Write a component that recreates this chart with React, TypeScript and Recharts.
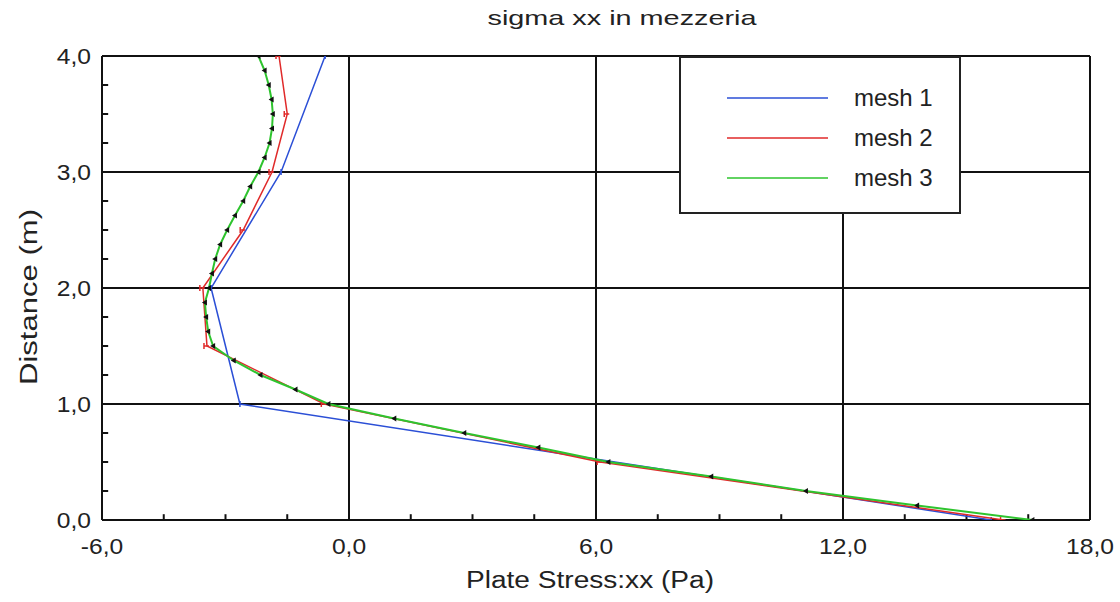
import React from 'react';
import { ScatterChart, Scatter, XAxis, YAxis, CartesianGrid, ReferenceLine, Legend } from 'recharts';

const xTicks = [-6, 0, 6, 12, 18];
const yTicks = [0, 1, 2, 3, 4];
const xMinorTicks = [-4.5, -3, -1.5, 1.5, 3, 4.5, 7.5, 9, 10.5, 13.5, 15, 16.5];
const yMinorTicks = [0.25, 0.5, 0.75, 1.25, 1.5, 1.75, 2.25, 2.5, 2.75, 3.25, 3.5, 3.75];

const seriesNames = ['mesh 1', 'mesh 2', 'mesh 3'];
const seriesColors = ['#2b4fd6', '#e02a2a', '#2ec42e'];

const mesh1Distance = [0, 1, 2, 3, 4];
const mesh1Stress = [15.6, -2.65, -3.35, -1.65, -0.58];

const mesh2Distance = [0, 0.5, 1, 1.5, 2, 2.5, 3, 3.5, 4];
const mesh2Stress = [15.9, 6.1, -0.6, -3.45, -3.55, -2.57, -1.87, -1.5, -1.7];

const mesh3Distance = [
  0, 0.125, 0.25, 0.375, 0.5, 0.625, 0.75, 0.875, 1,
  1.125, 1.25, 1.375, 1.5, 1.625, 1.75, 1.875, 2,
  2.125, 2.25, 2.375, 2.5, 2.625, 2.75, 2.875, 3,
  3.125, 3.25, 3.375, 3.5, 3.625, 3.75, 3.875, 4,
];
const mesh3Stress = [
  16.6, 13.8, 11.1, 8.8, 6.3, 4.6, 2.8, 1.1, -0.5,
  -1.3, -2.15, -2.8, -3.3, -3.42, -3.47, -3.5, -3.4,
  -3.33, -3.25, -3.13, -2.96, -2.77, -2.57, -2.4, -2.2,
  -2.05, -1.93, -1.87, -1.85, -1.88, -1.95, -2.05, -2.2,
];

const toPoints = (ds: number[], ss: number[]) => ds.map((y, i) => ({ x: ss[i], y }));
const mesh1 = toPoints(mesh1Distance, mesh1Stress);
const mesh2 = toPoints(mesh2Distance, mesh2Stress);
const mesh3 = toPoints(mesh3Distance, mesh3Stress);

const fmt = (v: number) => v.toFixed(1).replace('.', ',');
const FONT = '"Liberation Sans", Arial, sans-serif';
const TEXT = '#222';

const XTick = (p: any) => (
  <text
    transform={`translate(${p.x} ${p.y + 16}) scale(1.12 1)`}
    textAnchor="middle"
    fill={TEXT}
    fontSize={22}
    fontFamily={FONT}
  >
    {fmt(p.payload.value)}
  </text>
);
const YTick = (p: any) => (
  <text
    transform={`translate(${p.x} ${p.y + 8}) scale(1.12 1)`}
    textAnchor="end"
    fill={TEXT}
    fontSize={22}
    fontFamily={FONT}
  >
    {fmt(p.payload.value)}
  </text>
);

const BlueMark = (p: any) => (
  <line x1={p.cx} x2={p.cx} y1={p.cy - 3} y2={p.cy + 3} stroke="#2b4fd6" strokeWidth={1.5} />
);
const RedMark = (p: any) => (
  <g>
    <line x1={p.cx - 3} x2={p.cx - 3} y1={p.cy - 3} y2={p.cy + 3} stroke="#e02a2a" strokeWidth={1.5} />
    <line x1={p.cx - 3} x2={p.cx + 2} y1={p.cy} y2={p.cy} stroke="#e02a2a" strokeWidth={1.5} />
  </g>
);
const GreenMark = (p: any) => (
  <path d={`M${p.cx - 3},${p.cy} L${p.cx + 2},${p.cy - 3} L${p.cx + 2},${p.cy + 3} Z`} fill="#111" />
);

const LegendBox = () => (
  <div
    style={{
      width: '100%',
      height: '100%',
      boxSizing: 'border-box',
      border: '2px solid #222',
      background: '#fff',
      fontFamily: FONT,
      paddingTop: 20,
    }}
  >
    {seriesNames.map((n, i) => (
      <div key={n} style={{ display: 'flex', alignItems: 'center', height: 40 }}>
        <svg width={103} height={10} style={{ marginLeft: 46 }}>
          <line x1={0} x2={101} y1={5} y2={5} stroke={seriesColors[i]} strokeWidth={1.5} />
        </svg>
        <span style={{ fontSize: 24, color: TEXT, marginLeft: 24 }}>{n}</span>
      </div>
    ))}
  </div>
);

export default function App() {
  return (
    <div style={{ position: 'absolute', left: 0, top: 0, width: 1120, height: 602, background: '#fff' }}>
      <ScatterChart width={1120} height={602} margin={{ top: 56, right: 30, left: 0, bottom: 0 }}>
        <CartesianGrid stroke="#111" strokeWidth={2} fill="none" />
        <XAxis
          type="number"
          dataKey="x"
          domain={[-6, 18]}
          ticks={xTicks}
          height={82}
          tickLine={false}
          tickSize={6}
          tickMargin={12}
          axisLine={{ stroke: '#111', strokeWidth: 2 }}
          tick={XTick}
          allowDataOverflow
        />
        <YAxis
          type="number"
          dataKey="y"
          domain={[0, 4]}
          ticks={yTicks}
          width={102}
          tickLine={false}
          tickSize={6}
          tickMargin={5}
          axisLine={{ stroke: '#111', strokeWidth: 2 }}
          tick={YTick}
          allowDataOverflow
        />
        {xMinorTicks.map((t) => (
          <ReferenceLine key={'xm' + t} segment={[{ x: t, y: 0 }, { x: t, y: 0.05 }]} stroke="#111" strokeWidth={2} />
        ))}
        {yMinorTicks.map((t) => (
          <ReferenceLine key={'ym' + t} segment={[{ x: -6, y: t }, { x: -5.85, y: t }]} stroke="#111" strokeWidth={2} />
        ))}
        <Legend
          layout="vertical"
          align="center"
          verticalAlign="middle"
          content={LegendBox}
          wrapperStyle={{ position: 'absolute', left: 679, top: 56, width: 282, height: 158, bottom: 'auto', right: 'auto' }}
        />
        <Scatter name={seriesNames[0]} data={mesh1} line={{ stroke: seriesColors[0], strokeWidth: 1.5 }} shape={BlueMark} isAnimationActive={false} />
        <Scatter name={seriesNames[1]} data={mesh2} line={{ stroke: seriesColors[1], strokeWidth: 1.5 }} shape={RedMark} isAnimationActive={false} />
        <Scatter name={seriesNames[2]} data={mesh3} line={{ stroke: seriesColors[2], strokeWidth: 2 }} shape={GreenMark} isAnimationActive={false} />
      </ScatterChart>
      <svg
        width={1120}
        height={602}
        style={{ position: 'absolute', left: 0, top: 0, pointerEvents: 'none' }}
      >
        <text x={622} y={25} textAnchor="middle" fontSize={21} fontFamily={FONT} fill={TEXT} textLength={269} lengthAdjust="spacingAndGlyphs">
          sigma xx in mezzeria
        </text>
        <text x={590} y={588} textAnchor="middle" fontSize={23} fontFamily={FONT} fill={TEXT} textLength={248} lengthAdjust="spacingAndGlyphs">
          Plate Stress:xx (Pa)
        </text>
        <text
          transform="translate(37 297) rotate(-90)"
          textAnchor="middle"
          fontSize={23}
          fontFamily={FONT}
          fill={TEXT}
          textLength={176}
          lengthAdjust="spacingAndGlyphs"
        >
          Distance (m)
        </text>
      </svg>
    </div>
  );
}
